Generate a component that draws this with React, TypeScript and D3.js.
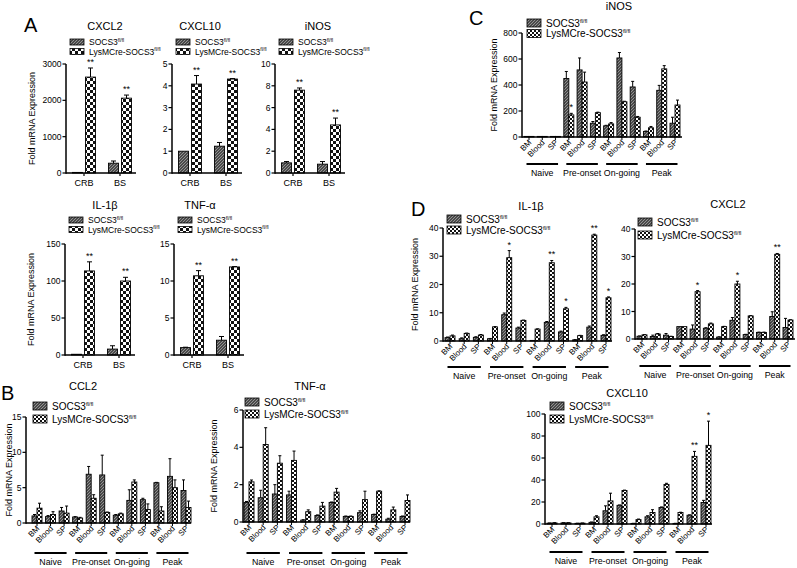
import React from "react";
import * as d3 from "d3";

const FONT = "'Liberation Sans', Arial, Helvetica, sans-serif";

// ---- Panel A (CRB / BS) ----
const aSites = ["CRB", "BS"];

const aCxcl2Flox = [1, 270];
const aCxcl2FloxErr = [0, 60];
const aCxcl2Lys = [2640, 2060];
const aCxcl2LysErr = [250, 85];
const aCxcl2Stars = ["**", "**"];

const aCxcl10Flox = [1.0, 1.23];
const aCxcl10FloxErr = [0, 0.17];
const aCxcl10Lys = [4.08, 4.31];
const aCxcl10LysErr = [0.39, 0.02];
const aCxcl10Stars = ["**", "**"];

const aInosFlox = [0.93, 0.81];
const aInosFloxErr = [0.12, 0.24];
const aInosLys = [7.6, 4.41];
const aInosLysErr = [0.2, 0.63];
const aInosStars = ["**", "**"];

const aIl1bFlox = [1, 8];
const aIl1bFloxErr = [0, 4.5];
const aIl1bLys = [113.6, 100];
const aIl1bLysErr = [12.3, 5];
const aIl1bStars = ["**", "**"];

const aTnfFlox = [1.0, 2.0];
const aTnfFloxErr = [0.05, 0.5];
const aTnfLys = [10.7, 11.9];
const aTnfLysErr = [0.7, 0.05];
const aTnfStars = ["**", "**"];

// ---- Time course panels ----
const stages = ["Naive", "Pre-onset", "On-going", "Peak"];
const tissues = ["BM", "Blood", "SP"];

const cInosFlox = [1, 1, 1, 450, 516, 106, 86, 608, 385, 43, 359, 106];
const cInosFloxErr = [0, 0, 0, 54, 92, 13, 4, 42, 43, 3, 38, 46];
const cInosLys = [1, 1, 1, 170, 423, 187, 101, 271, 152, 71, 524, 246];
const cInosLysErr = [0, 0, 0, 12, 76, 4, 10, 4, 6, 10, 25, 38];
const cInosStars = ["", "", "", "*", "", "", "", "", "", "", "", ""];

const dIl1bFlox = [1.2, 0.8, 1.3, 0.8, 9.3, 4.6, 0.1, 6.6, 3.2, 0.4, 4.9, 2.0];
const dIl1bFloxErr = [0.2, 0.3, 0.2, 0.1, 0.6, 0.3, 0, 0.3, 0.3, 0.1, 0.4, 0.2];
const dIl1bLys = [1.8, 2.7, 2.1, 5.0, 29.5, 7.3, 4.2, 27.7, 11.4, 1.9, 37.5, 15.3];
const dIl1bLysErr = [0.3, 0.1, 0.2, 0.1, 2.5, 0.1, 0.1, 0.8, 0.5, 0.1, 0.3, 0.3];
const dIl1bStars = ["", "", "", "", "*", "", "", "**", "*", "", "**", "*"];

const dCxcl2Flox = [1.0, 0.9, 1.4, 4.5, 3.6, 3.9, 0.7, 6.8, 1.6, 2.4, 8.2, 4.2];
const dCxcl2FloxErr = [0.1, 0.5, 0.6, 0, 1.5, 0.2, 0.1, 1.0, 0.1, 0.1, 1.7, 3.3];
const dCxcl2Lys = [1.5, 1.8, 0.9, 4.5, 17.2, 5.5, 4.5, 20.0, 8.4, 2.4, 30.8, 6.9];
const dCxcl2LysErr = [0.1, 0.2, 0.1, 0, 0.4, 0.3, 0.1, 1.0, 0.1, 0.1, 0.3, 0.1];
const dCxcl2Stars = ["", "", "", "", "*", "", "", "*", "", "", "**", ""];

const dCxcl10Flox = [0.8, 1.0, 0.6, 1.5, 12, 17, 0.5, 6.5, 15, 0.5, 8, 19.5];
const dCxcl10FloxErr = [0.1, 0.2, 0.1, 0.3, 4.5, 0.3, 0.1, 1, 0.5, 0.1, 0.3, 2];
const dCxcl10Lys = [1.0, 1.0, 0.8, 6.5, 21, 30.5, 4, 10.5, 36, 10.5, 61.5, 71.5];
const dCxcl10LysErr = [0.2, 0.2, 0.1, 1, 7, 0.3, 0.5, 2.5, 1, 0.2, 4.5, 22];
const dCxcl10Stars = ["", "", "", "", "", "", "", "", "", "", "**", "*"];

const bCcl2Flox = [1.0, 0.9, 1.7, 0.85, 6.9, 6.8, 1.1, 3.2, 3.3, 5.7, 6.6, 4.6];
const bCcl2FloxErr = [0.2, 0.15, 0.5, 0.05, 1.1, 2.8, 0.1, 1.5, 0.2, 0.05, 2.5, 1.5];
const bCcl2Lys = [2.1, 1.2, 1.4, 0.7, 3.5, 1.5, 1.3, 5.8, 1.9, 1.7, 5.0, 2.2];
const bCcl2LysErr = [0.7, 0.4, 1.0, 0.1, 0.5, 0.05, 0.1, 0.3, 0.8, 0.6, 1.1, 0.9];

const bTnfFlox = [1.05, 1.3, 1.5, 1.45, 0.1, 0.35, 1.05, 0.3, 0.5, 0.4, 0.15, 0.3];
const bTnfFloxErr = [0.05, 0.4, 0.5, 0.2, 0.02, 0.03, 0.02, 0.02, 0.1, 0.02, 0.05, 0.02];
const bTnfLys = [2.15, 4.15, 3.15, 3.3, 0.55, 0.85, 1.6, 0.3, 1.2, 1.65, 0.65, 1.15];
const bTnfLysErr = [0.1, 0.9, 0.4, 0.5, 0.1, 0.2, 0.2, 0.02, 0.45, 0.02, 0.15, 0.3];

const noStars = Array(12).fill("");

interface Series {
  flox: number[];
  floxErr: number[];
  lys: number[];
  lysErr: number[];
  stars: string[];
}

function Patterns() {
  return (
    <defs>
      <pattern id="floxFill" width="3" height="3" patternUnits="userSpaceOnUse">
        <rect width="3" height="3" fill="#4a4a4a" />
        <path d="M0,3 L3,0" stroke="#a5a5a5" strokeWidth="0.8" />
      </pattern>
      <pattern id="lysFill" width="6" height="6" patternUnits="userSpaceOnUse">
        <rect width="6" height="6" fill="#fff" />
        <rect width="3" height="3" fill="#111" />
        <rect x="3" y="3" width="3" height="3" fill="#111" />
      </pattern>
      <pattern id="lysFillSmall" width="4" height="4" patternUnits="userSpaceOnUse">
        <rect width="4" height="4" fill="#fff" />
        <rect width="2" height="2" fill="#111" />
        <rect x="2" y="2" width="2" height="2" fill="#111" />
      </pattern>
    </defs>
  );
}

function Legend({ x, y, gap, fontSize, swW, swH, small }: { x: number; y: number; gap: number; fontSize: number; swW: number; swH: number; small?: boolean }) {
  const rows = [
    { label: "SOCS3", fill: "url(#floxFill)" },
    { label: "LysMCre-SOCS3", fill: small ? "url(#lysFillSmall)" : "url(#lysFill)" },
  ];
  return (
    <g>
      {rows.map((r, i) => (
        <g key={r.label}>
          <rect x={x} y={y + i * gap - swH / 2} width={swW} height={swH} fill={r.fill} stroke="#000" strokeWidth={0.8} />
          <text x={x + swW + 5} y={y + i * gap + fontSize * 0.36} fontSize={fontSize}>
            {r.label}
            <tspan dy={-fontSize * 0.38} fontSize={fontSize * 0.58}>fl/fl</tspan>
          </text>
        </g>
      ))}
    </g>
  );
}

function ValueAxis({ x, y, ticks, fontSize }: { x: number; y: d3.ScaleLinear<number, number>; ticks: number[]; fontSize: number }) {
  const [r0, r1] = y.range();
  return (
    <g>
      <line x1={x} x2={x} y1={r0 + 0.75} y2={r1} stroke="#000" strokeWidth={1.5} />
      {ticks.map((t) => (
        <g key={t}>
          <line x1={x - 3.5} x2={x} y1={y(t)} y2={y(t)} stroke="#000" strokeWidth={1.2} />
          <text x={x - 4.5} y={y(t) + fontSize * 0.36} textAnchor="end" fontSize={fontSize}>{t}</text>
        </g>
      ))}
    </g>
  );
}

function Bars({ centers, y, s, barW, gap, capW, small }: { centers: number[]; y: d3.ScaleLinear<number, number>; s: Series; barW: number; gap: number; capW: number; small?: boolean }) {
  const y0 = y(0);
  return (
    <g>
      {centers.map((cx, i) => {
        const bars = [
          { x: cx - gap / 2 - barW, v: s.flox[i], e: s.floxErr[i], fill: "url(#floxFill)" },
          { x: cx + gap / 2, v: s.lys[i], e: s.lysErr[i], fill: small ? "url(#lysFillSmall)" : "url(#lysFill)" },
        ];
        return (
          <g key={i}>
            {bars.map((b, j) => {
              const top = y(b.v);
              const mid = b.x + barW / 2;
              return (
                <g key={j}>
                  {b.e > 0 && (
                    <g stroke="#000" strokeWidth={1}>
                      <line x1={mid} x2={mid} y1={top} y2={y(b.v + b.e)} />
                      <line x1={mid - capW / 2} x2={mid + capW / 2} y1={y(b.v + b.e)} y2={y(b.v + b.e)} />
                    </g>
                  )}
                  <rect x={b.x} y={Math.min(top, y0 - 0.6)} width={barW} height={Math.max(y0 - top, 0.6)} fill={b.fill} stroke="#000" strokeWidth={0.9} />
                </g>
              );
            })}
            {s.stars[i] && (
              <text x={bars[1].x + barW / 2} y={y(s.lys[i] + s.lysErr[i]) - 3} textAnchor="middle" fontSize={9}>
                {s.stars[i]}
              </text>
            )}
          </g>
        );
      })}
    </g>
  );
}

interface SiteLayout {
  axisX: number;
  y0: number;
  yTop: number;
  max: number;
  step: number;
  titleX: number;
  titleY: number;
  legendY: number;
  legendGap: number;
  yLabel?: boolean;
}

function SitePanel({ title, L, s }: { title: string; L: SiteLayout; s: Series }) {
  const len = 72;
  const x = d3.scalePoint<string>().domain(aSites).range([L.axisX, L.axisX + len]).padding(0.5);
  const y = d3.scaleLinear().domain([0, L.max]).range([L.y0, L.yTop]);
  const ticks = d3.range(0, L.max + L.step / 2, L.step);
  const centers = aSites.map((c) => x(c) as number);
  return (
    <g>
      <text x={L.titleX} y={L.titleY} textAnchor="middle" fontSize={11}>{title}</text>
      <Legend x={L.axisX + 4} y={L.legendY} gap={L.legendGap} fontSize={8.5} swW={14} swH={6} />
      {L.yLabel && (
        <text transform={`translate(${L.axisX - 31},${(L.y0 + L.yTop) / 2}) rotate(-90)`} textAnchor="middle" fontSize={9}>
          Fold mRNA Expression
        </text>
      )}
      <Bars centers={centers} y={y} s={s} barW={10} gap={3} capW={5} />
      <ValueAxis x={L.axisX} y={y} ticks={ticks} fontSize={8.5} />
      <line x1={L.axisX} x2={L.axisX + len - 2} y1={L.y0} y2={L.y0} stroke="#000" strokeWidth={1.5} />
      {aSites.map((c) => (
        <g key={c}>
          <line x1={x(c)} x2={x(c)} y1={L.y0} y2={L.y0 + 3} stroke="#000" strokeWidth={1.2} />
          <text x={x(c)} y={L.y0 + 13} textAnchor="middle" fontSize={9}>{c}</text>
        </g>
      ))}
    </g>
  );
}

interface TimeLayout {
  axisX: number;
  axisEnd: number;
  first: number;
  last: number;
  y0: number;
  yTop: number;
  max: number;
  step: number;
  titleX: number;
  titleY: number;
  legendX: number;
  legendY: number;
  legendGap: number;
  legendFont: number;
  lineY: number;
  yLabelX?: number;
}

function TimePanel({ title, L, s }: { title: string; L: TimeLayout; s: Series }) {
  const keys = stages.flatMap((st) => tissues.map((t) => `${st}|${t}`));
  const x = d3.scalePoint<string>().domain(keys).range([L.first, L.last]);
  const y = d3.scaleLinear().domain([0, L.max]).range([L.y0, L.yTop]);
  const ticks = d3.range(0, L.max + L.step / 2, L.step);
  const centers = keys.map((k) => x(k) as number);
  return (
    <g>
      <text x={L.titleX} y={L.titleY} textAnchor="middle" fontSize={11}>{title}</text>
      <Legend x={L.legendX} y={L.legendY} gap={L.legendGap} fontSize={L.legendFont} swW={14} swH={8} small />
      {L.yLabelX !== undefined && (
        <text transform={`translate(${L.yLabelX},${(L.y0 + L.yTop) / 2}) rotate(-90)`} textAnchor="middle" fontSize={9}>
          Fold mRNA Expression
        </text>
      )}
      <Bars centers={centers} y={y} s={s} barW={5} gap={0} capW={3} small />
      <ValueAxis x={L.axisX} y={y} ticks={ticks} fontSize={8.5} />
      <line x1={L.axisX} x2={L.axisEnd} y1={L.y0} y2={L.y0} stroke="#000" strokeWidth={1.5} />
      {keys.map((k, i) => (
        <g key={k}>
          <line x1={centers[i]} x2={centers[i]} y1={L.y0} y2={L.y0 + 3} stroke="#000" strokeWidth={1} />
          <text transform={`translate(${centers[i] + 3},${L.y0 + 6}) rotate(-45)`} textAnchor="end" fontSize={8}>
            {k.split("|")[1]}
          </text>
        </g>
      ))}
      {stages.map((st, g) => {
        const a = centers[g * 3];
        const b = centers[g * 3 + 2];
        return (
          <g key={st}>
            <line x1={a - 2.5} x2={b + 2.5} y1={L.lineY} y2={L.lineY} stroke="#000" strokeWidth={2} />
            <text x={(a + b) / 2} y={L.lineY + 12} textAnchor="middle" fontSize={8.8}>{st}</text>
          </g>
        );
      })}
    </g>
  );
}

const siteTop = { y0: 173, yTop: 64, titleY: 30, legendY: 42, legendGap: 9.5 };
const siteBottom = { y0: 355, yTop: 244, titleY: 209, legendY: 220, legendGap: 9.5 };

export default function App() {
  return (
    <svg width={797} height={568} fontFamily={FONT} style={{ position: "absolute", left: 0, top: 0, background: "#fff" }}>
      <Patterns />
      <rect width={797} height={568} fill="#fff" />

      {/* A */}
      <text x={24} y={32} fontSize={20}>A</text>
      <SitePanel title="CXCL2" L={{ ...siteTop, axisX: 66, max: 3000, step: 1000, titleX: 105, yLabel: true }}
        s={{ flox: aCxcl2Flox, floxErr: aCxcl2FloxErr, lys: aCxcl2Lys, lysErr: aCxcl2LysErr, stars: aCxcl2Stars }} />
      <SitePanel title="CXCL10" L={{ ...siteTop, axisX: 172, max: 5, step: 1, titleX: 200 }}
        s={{ flox: aCxcl10Flox, floxErr: aCxcl10FloxErr, lys: aCxcl10Lys, lysErr: aCxcl10LysErr, stars: aCxcl10Stars }} />
      <SitePanel title="iNOS" L={{ ...siteTop, axisX: 275, max: 10, step: 2, titleX: 318 }}
        s={{ flox: aInosFlox, floxErr: aInosFloxErr, lys: aInosLys, lysErr: aInosLysErr, stars: aInosStars }} />
      <SitePanel title="IL-1β" L={{ ...siteBottom, axisX: 65, max: 150, step: 50, titleX: 105, yLabel: true }}
        s={{ flox: aIl1bFlox, floxErr: aIl1bFloxErr, lys: aIl1bLys, lysErr: aIl1bLysErr, stars: aIl1bStars }} />
      <SitePanel title="TNF-α" L={{ ...siteBottom, axisX: 174, max: 15, step: 5, titleX: 200 }}
        s={{ flox: aTnfFlox, floxErr: aTnfFloxErr, lys: aTnfLys, lysErr: aTnfLysErr, stars: aTnfStars }} />

      {/* C */}
      <text x={469} y={25} fontSize={20}>C</text>
      <TimePanel title="iNOS"
        L={{ axisX: 522, axisEnd: 682, first: 529, last: 675, y0: 137, yTop: 33, max: 800, step: 200, titleX: 619, titleY: 10,
          legendX: 527, legendY: 23, legendGap: 10.5, legendFont: 10, lineY: 164, yLabelX: 497 }}
        s={{ flox: cInosFlox, floxErr: cInosFloxErr, lys: cInosLys, lysErr: cInosLysErr, stars: cInosStars }} />

      {/* D */}
      <text x={411} y={216} fontSize={20}>D</text>
      <TimePanel title="IL-1β"
        L={{ axisX: 443, axisEnd: 612, first: 450, last: 606, y0: 341, yTop: 228, max: 40, step: 10, titleX: 531, titleY: 210,
          legendX: 447, legendY: 219, legendGap: 11, legendFont: 10, lineY: 367, yLabelX: 418 }}
        s={{ flox: dIl1bFlox, floxErr: dIl1bFloxErr, lys: dIl1bLys, lysErr: dIl1bLysErr, stars: dIl1bStars }} />
      <TimePanel title="CXCL2"
        L={{ axisX: 635, axisEnd: 795, first: 642, last: 788, y0: 339, yTop: 229, max: 40, step: 10, titleX: 728, titleY: 208,
          legendX: 638, legendY: 222, legendGap: 13, legendFont: 10, lineY: 366 }}
        s={{ flox: dCxcl2Flox, floxErr: dCxcl2FloxErr, lys: dCxcl2Lys, lysErr: dCxcl2LysErr, stars: dCxcl2Stars }} />
      <TimePanel title="CXCL10"
        L={{ axisX: 545, axisEnd: 712, first: 552, last: 706, y0: 524, yTop: 414, max: 100, step: 20, titleX: 627, titleY: 397,
          legendX: 550, legendY: 406, legendGap: 13, legendFont: 10, lineY: 552 }}
        s={{ flox: dCxcl10Flox, floxErr: dCxcl10FloxErr, lys: dCxcl10Lys, lysErr: dCxcl10LysErr, stars: dCxcl10Stars }} />

      {/* B */}
      <text x={1} y={400} fontSize={20}>B</text>
      <TimePanel title="CCL2"
        L={{ axisX: 26, axisEnd: 191, first: 37, last: 186, y0: 523, yTop: 417, max: 15, step: 5, titleX: 83, titleY: 390,
          legendX: 33, legendY: 406, legendGap: 13, legendFont: 10, lineY: 553, yLabelX: 12 }}
        s={{ flox: bCcl2Flox, floxErr: bCcl2FloxErr, lys: bCcl2Lys, lysErr: bCcl2LysErr, stars: noStars }} />
      <TimePanel title="TNF-α"
        L={{ axisX: 243, axisEnd: 410, first: 249, last: 405, y0: 522, yTop: 410, max: 6, step: 2, titleX: 310, titleY: 390,
          legendX: 245, legendY: 402, legendGap: 12, legendFont: 10, lineY: 553, yLabelX: 217 }}
        s={{ flox: bTnfFlox, floxErr: bTnfFloxErr, lys: bTnfLys, lysErr: bTnfLysErr, stars: noStars }} />
    </svg>
  );
}
